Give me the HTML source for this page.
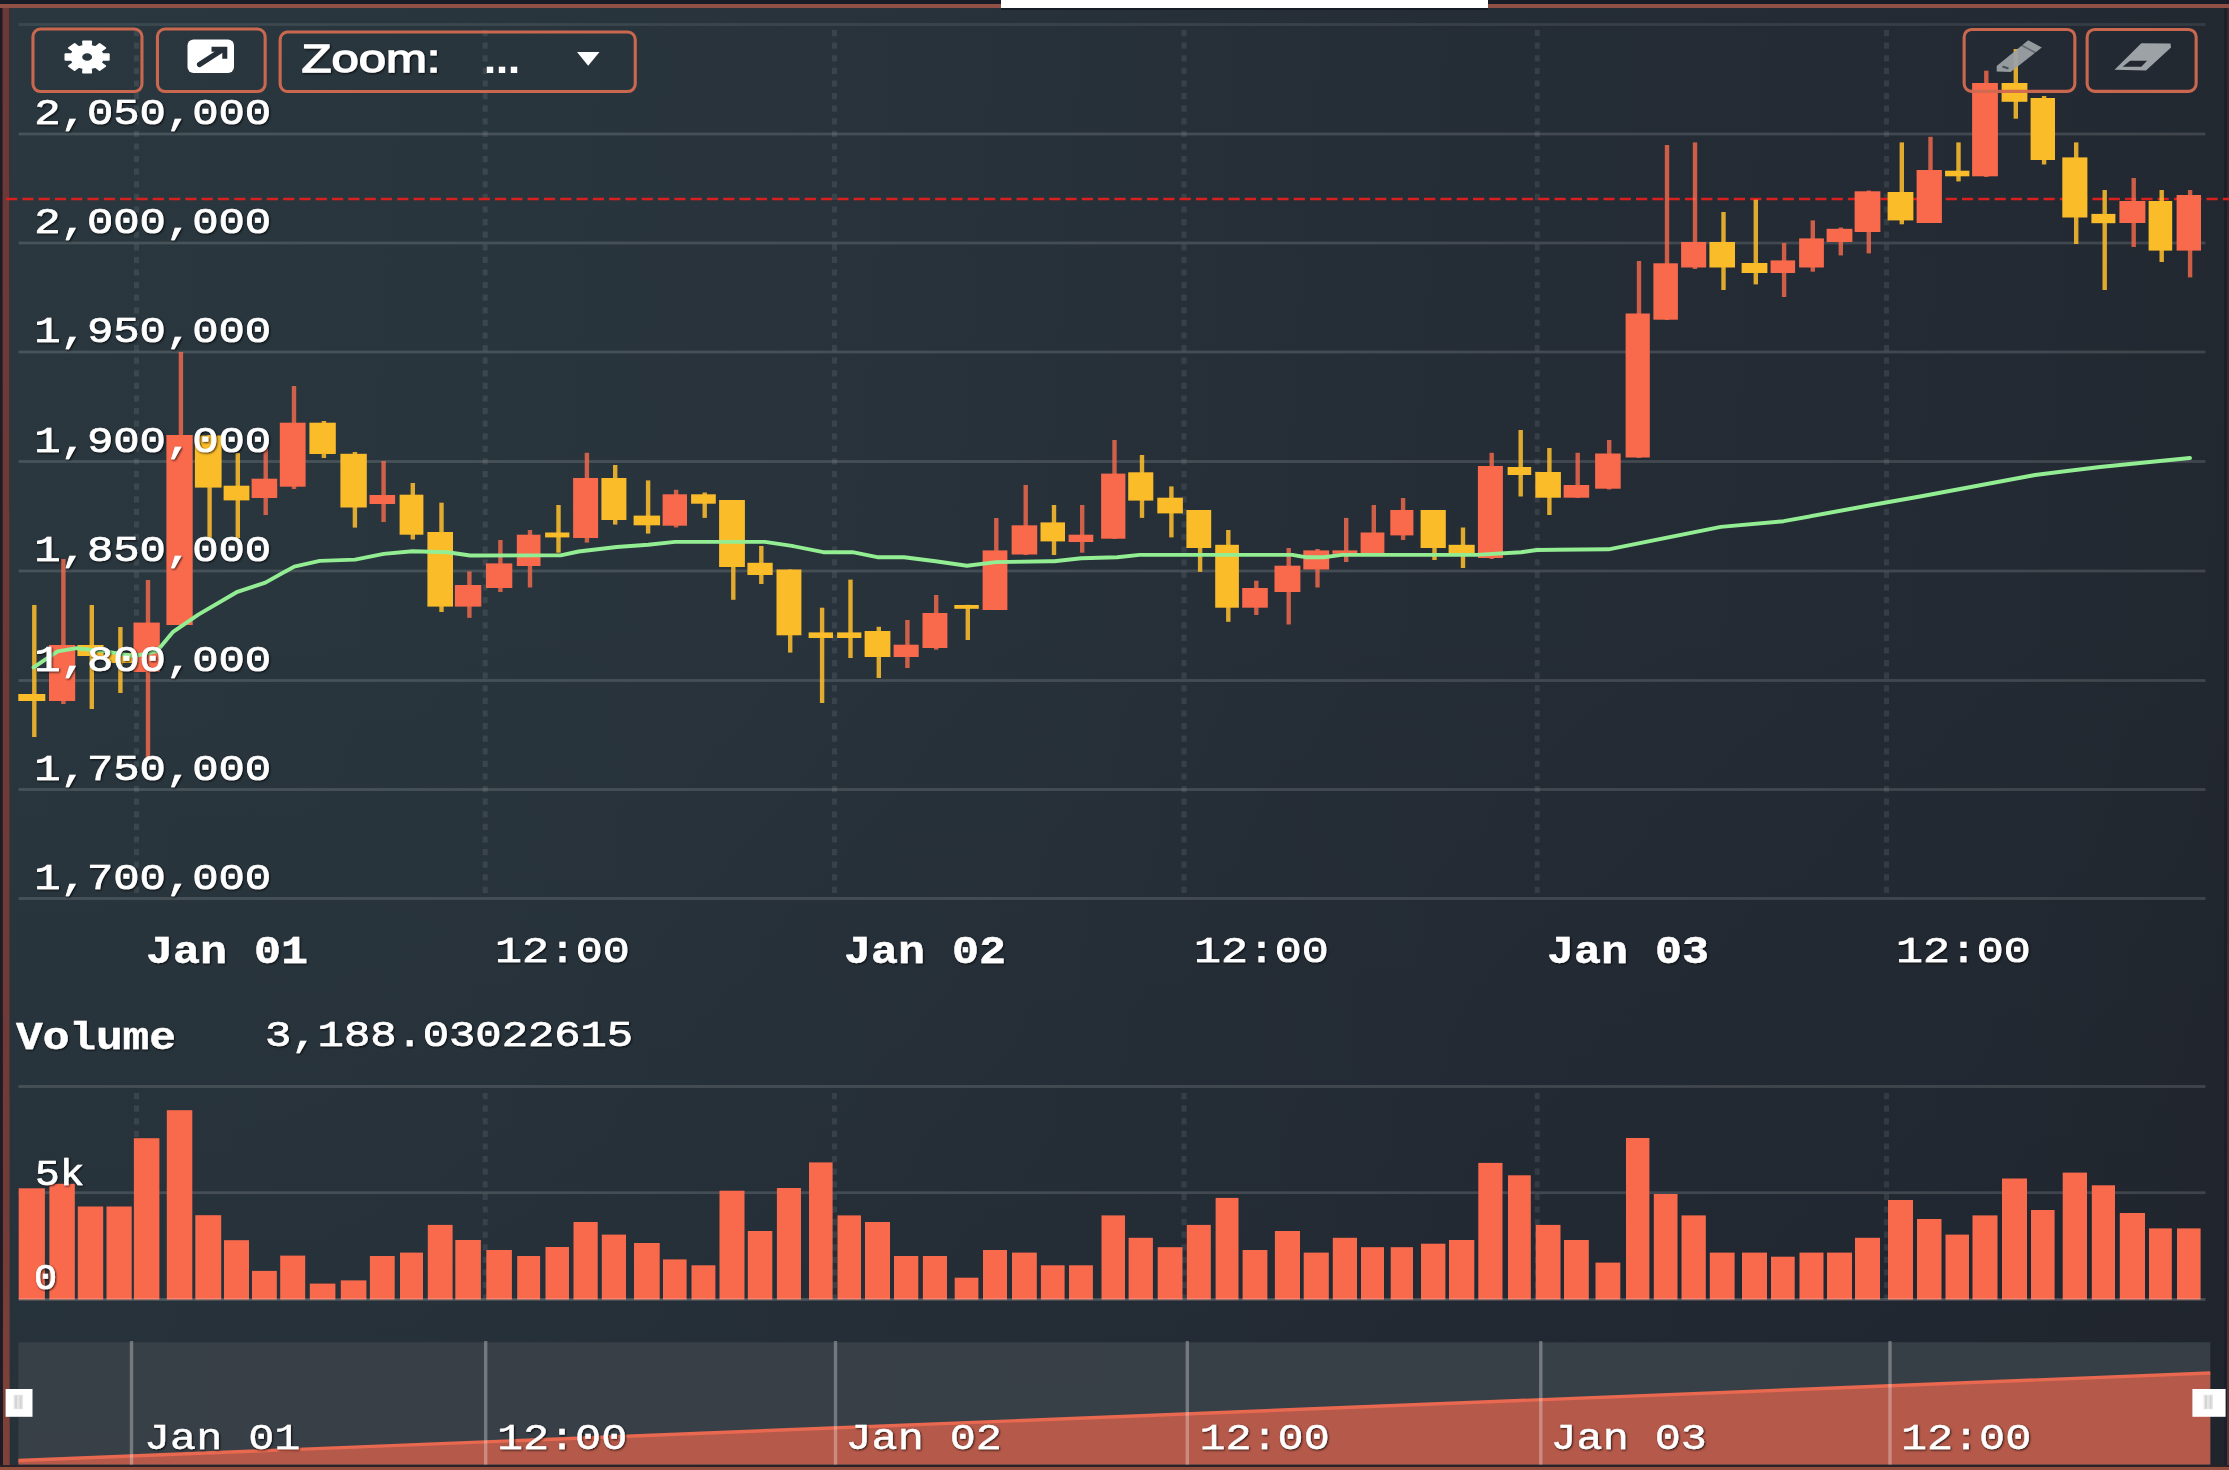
<!DOCTYPE html>
<html><head><meta charset="utf-8"><title>chart</title>
<style>
html,body{margin:0;padding:0;}
body{width:2229px;height:1470px;overflow:hidden;background:#232a33;font-family:"Liberation Mono",monospace;position:relative;}
#bg{position:absolute;left:0;top:0;width:2229px;height:1470px;background:linear-gradient(94deg,#2a373f 0%,#29353d 22%,#27313a 45%,#242c35 67%,#232a33 88%,#22272f 100%);}
#bg2{position:absolute;left:0;top:0;width:2229px;height:1470px;background:linear-gradient(180deg,rgba(20,22,32,0) 0%,rgba(20,22,32,0) 40%,rgba(20,22,32,0.17) 100%);}
.btn{position:absolute;box-sizing:border-box;border:3.5px solid #cf6a50;border-radius:9px;}
svg{position:absolute;left:0;top:0;}
text{font-family:"Liberation Mono",monospace;fill:#fff;stroke:#fff;stroke-width:0.7px;}
.b{stroke-width:0.4px;}
.sans{font-family:"Liberation Sans",sans-serif;}
</style></head><body>
<div id="bg"></div><div id="bg2"></div>

<div style="position:absolute;left:0;top:0;width:2229px;height:4.2px;background:#1a1c27"></div>
<div style="position:absolute;left:0;top:4.1px;width:2229px;height:3.7px;background:#8f5146"></div>
<div style="position:absolute;left:1000.5px;top:0;width:487.5px;height:7.8px;background:#fff"></div>
<div style="position:absolute;left:1000.5px;top:7.8px;width:487.5px;height:1.8px;background:#141a23;opacity:0.85"></div>
<div style="position:absolute;left:0;top:8px;width:10px;height:1462px;background:#1f1a24"></div>
<div style="position:absolute;left:0;top:8px;width:11px;height:1462px;background:linear-gradient(180deg,#683a38,#6f3c38 80%,#7e4339);clip-path:polygon(2.5px 0,9.5px 0,9.8px 100%,3px 100%)"></div>
<div style="position:absolute;left:2223.5px;top:8px;width:3px;height:1462px;background:#1c1f28"></div>
<div style="position:absolute;left:2226.5px;top:8px;width:2.5px;height:1462px;background:linear-gradient(180deg,#33292e,#3a2c30 60%,#5a3535)"></div>
<div style="position:absolute;left:0;top:1465.2px;width:2229px;height:1.8px;background:#2a2229"></div>
<div style="position:absolute;left:0;top:1466.8px;width:2229px;height:3.2px;background:#93503f"></div>
<svg width="2229" height="1470" viewBox="0 0 2229 1470">
<defs><filter id="bl" x="-5%" y="-5%" width="110%" height="110%"><feGaussianBlur stdDeviation="0.7"/></filter><filter id="ts" x="-10%" y="-20%" width="120%" height="140%"><feDropShadow dx="1" dy="1" stdDeviation="0.8" flood-color="#000" flood-opacity="0.8"/></filter></defs>
<rect x="18.5" y="23.1" width="2187.0" height="2.8" fill="#ffffff" opacity="0.09"/>
<rect x="18.5" y="132.6" width="2187.0" height="2.8" fill="#ffffff" opacity="0.14"/>
<rect x="18.5" y="241.6" width="2187.0" height="2.8" fill="#ffffff" opacity="0.14"/>
<rect x="18.5" y="350.6" width="2187.0" height="2.8" fill="#ffffff" opacity="0.14"/>
<rect x="18.5" y="460.1" width="2187.0" height="2.8" fill="#ffffff" opacity="0.14"/>
<rect x="18.5" y="569.6" width="2187.0" height="2.8" fill="#ffffff" opacity="0.14"/>
<rect x="18.5" y="679.1" width="2187.0" height="2.8" fill="#ffffff" opacity="0.14"/>
<rect x="18.5" y="788.1" width="2187.0" height="2.8" fill="#ffffff" opacity="0.14"/>
<rect x="18.5" y="897.1" width="2187.0" height="2.8" fill="#ffffff" opacity="0.14"/>
<line x1="136.5" y1="30" x2="136.5" y2="898" stroke="#ffffff" stroke-opacity="0.085" stroke-width="5" stroke-dasharray="6.2 6.4"/>
<line x1="485.2" y1="30" x2="485.2" y2="898" stroke="#ffffff" stroke-opacity="0.085" stroke-width="5" stroke-dasharray="6.2 6.4"/>
<line x1="834.5" y1="30" x2="834.5" y2="898" stroke="#ffffff" stroke-opacity="0.085" stroke-width="5" stroke-dasharray="6.2 6.4"/>
<line x1="1184" y1="30" x2="1184" y2="898" stroke="#ffffff" stroke-opacity="0.085" stroke-width="5" stroke-dasharray="6.2 6.4"/>
<line x1="1537.2" y1="30" x2="1537.2" y2="898" stroke="#ffffff" stroke-opacity="0.085" stroke-width="5" stroke-dasharray="6.2 6.4"/>
<line x1="1886.5" y1="30" x2="1886.5" y2="898" stroke="#ffffff" stroke-opacity="0.085" stroke-width="5" stroke-dasharray="6.2 6.4"/>
<rect x="18.5" y="1085.1" width="2187.0" height="2.8" fill="#ffffff" opacity="0.14"/>
<rect x="18.5" y="1191.3" width="2187.0" height="2.8" fill="#ffffff" opacity="0.14"/>
<line x1="136.5" y1="1093" x2="136.5" y2="1299" stroke="#ffffff" stroke-opacity="0.085" stroke-width="5" stroke-dasharray="6.2 6.4"/>
<line x1="485.2" y1="1093" x2="485.2" y2="1299" stroke="#ffffff" stroke-opacity="0.085" stroke-width="5" stroke-dasharray="6.2 6.4"/>
<line x1="834.5" y1="1093" x2="834.5" y2="1299" stroke="#ffffff" stroke-opacity="0.085" stroke-width="5" stroke-dasharray="6.2 6.4"/>
<line x1="1184" y1="1093" x2="1184" y2="1299" stroke="#ffffff" stroke-opacity="0.085" stroke-width="5" stroke-dasharray="6.2 6.4"/>
<line x1="1537.2" y1="1093" x2="1537.2" y2="1299" stroke="#ffffff" stroke-opacity="0.085" stroke-width="5" stroke-dasharray="6.2 6.4"/>
<line x1="1886.5" y1="1093" x2="1886.5" y2="1299" stroke="#ffffff" stroke-opacity="0.085" stroke-width="5" stroke-dasharray="6.2 6.4"/>
<line x1="6" y1="199" x2="2229" y2="199" stroke="#d9201f" stroke-width="2.4" stroke-dasharray="11.2 5.1"/>
<g filter="url(#bl)">
<rect x="32.1" y="605.0" width="4.4" height="132.0" fill="#fbbc2c" opacity="0.88"/>
<rect x="18.3" y="694.0" width="27.0" height="7.0" fill="#fbbc2c"/>
<rect x="61.2" y="559.0" width="4.4" height="145.0" fill="#f96a4d" opacity="0.8"/>
<rect x="49.0" y="645.0" width="26.2" height="56.0" fill="#f96a4d"/>
<rect x="89.6" y="605.0" width="4.4" height="104.0" fill="#fbbc2c" opacity="0.88"/>
<rect x="77.4" y="645.0" width="26.2" height="11.0" fill="#fbbc2c"/>
<rect x="118.2" y="627.0" width="4.4" height="66.0" fill="#fbbc2c" opacity="0.88"/>
<rect x="106.1" y="653.0" width="26.0" height="10.0" fill="#fbbc2c"/>
<rect x="145.8" y="580.0" width="4.4" height="178.5" fill="#f96a4d" opacity="0.8"/>
<rect x="133.5" y="622.6" width="26.3" height="49.4" fill="#f96a4d"/>
<rect x="178.7" y="352.0" width="4.4" height="273.0" fill="#f96a4d" opacity="0.8"/>
<rect x="166.4" y="435.0" width="26.3" height="190.0" fill="#f96a4d"/>
<rect x="207.4" y="435.0" width="4.4" height="103.0" fill="#fbbc2c" opacity="0.88"/>
<rect x="194.9" y="435.5" width="26.7" height="52.1" fill="#fbbc2c"/>
<rect x="235.6" y="453.0" width="4.4" height="85.0" fill="#fbbc2c" opacity="0.88"/>
<rect x="223.6" y="485.7" width="25.8" height="14.7" fill="#fbbc2c"/>
<rect x="263.5" y="448.0" width="4.4" height="67.0" fill="#f96a4d" opacity="0.8"/>
<rect x="251.6" y="478.7" width="25.6" height="19.3" fill="#f96a4d"/>
<rect x="291.8" y="386.0" width="4.4" height="103.0" fill="#f96a4d" opacity="0.8"/>
<rect x="279.8" y="422.7" width="25.8" height="64.0" fill="#f96a4d"/>
<rect x="321.7" y="421.0" width="4.4" height="37.0" fill="#fbbc2c" opacity="0.88"/>
<rect x="309.4" y="422.7" width="26.4" height="31.3" fill="#fbbc2c"/>
<rect x="352.7" y="452.0" width="4.4" height="75.6" fill="#fbbc2c" opacity="0.88"/>
<rect x="340.4" y="453.8" width="26.4" height="53.7" fill="#fbbc2c"/>
<rect x="381.4" y="461.0" width="4.4" height="61.0" fill="#f96a4d" opacity="0.8"/>
<rect x="369.5" y="495.0" width="25.6" height="9.0" fill="#f96a4d"/>
<rect x="410.6" y="483.0" width="4.4" height="56.5" fill="#fbbc2c" opacity="0.88"/>
<rect x="399.6" y="494.7" width="23.8" height="40.0" fill="#fbbc2c"/>
<rect x="439.3" y="502.7" width="4.4" height="109.3" fill="#fbbc2c" opacity="0.88"/>
<rect x="427.4" y="532.0" width="25.6" height="74.6" fill="#fbbc2c"/>
<rect x="467.2" y="571.4" width="4.4" height="46.4" fill="#f96a4d" opacity="0.8"/>
<rect x="454.9" y="585.0" width="26.4" height="21.6" fill="#f96a4d"/>
<rect x="498.2" y="540.0" width="4.4" height="52.0" fill="#f96a4d" opacity="0.8"/>
<rect x="485.9" y="563.4" width="26.4" height="24.6" fill="#f96a4d"/>
<rect x="527.8" y="530.0" width="4.4" height="57.5" fill="#f96a4d" opacity="0.8"/>
<rect x="516.8" y="534.7" width="23.7" height="31.3" fill="#f96a4d"/>
<rect x="556.3" y="505.0" width="4.4" height="47.7" fill="#fbbc2c" opacity="0.88"/>
<rect x="545.1" y="532.5" width="24.3" height="4.9" fill="#fbbc2c"/>
<rect x="584.7" y="452.8" width="4.4" height="89.8" fill="#f96a4d" opacity="0.8"/>
<rect x="573.1" y="478.0" width="25.0" height="60.0" fill="#f96a4d"/>
<rect x="613.0" y="465.0" width="4.4" height="59.6" fill="#fbbc2c" opacity="0.88"/>
<rect x="601.4" y="478.0" width="25.0" height="42.0" fill="#fbbc2c"/>
<rect x="645.9" y="480.4" width="4.4" height="53.2" fill="#fbbc2c" opacity="0.88"/>
<rect x="633.6" y="515.6" width="26.5" height="9.7" fill="#fbbc2c"/>
<rect x="673.9" y="489.8" width="4.4" height="37.7" fill="#f96a4d" opacity="0.8"/>
<rect x="662.6" y="494.3" width="24.4" height="31.4" fill="#f96a4d"/>
<rect x="702.5" y="492.5" width="4.4" height="25.4" fill="#fbbc2c" opacity="0.88"/>
<rect x="691.1" y="494.3" width="24.7" height="9.4" fill="#fbbc2c"/>
<rect x="731.1" y="500.0" width="4.4" height="99.8" fill="#fbbc2c" opacity="0.88"/>
<rect x="719.1" y="500.0" width="25.8" height="67.0" fill="#fbbc2c"/>
<rect x="759.1" y="546.0" width="4.4" height="38.0" fill="#fbbc2c" opacity="0.88"/>
<rect x="747.4" y="562.8" width="25.3" height="12.2" fill="#fbbc2c"/>
<rect x="788.0" y="569.5" width="4.4" height="83.1" fill="#fbbc2c" opacity="0.88"/>
<rect x="776.5" y="569.5" width="24.9" height="65.8" fill="#fbbc2c"/>
<rect x="819.9" y="607.7" width="4.4" height="95.3" fill="#fbbc2c" opacity="0.88"/>
<rect x="808.6" y="632.4" width="24.4" height="5.6" fill="#fbbc2c"/>
<rect x="848.3" y="579.6" width="4.4" height="78.4" fill="#fbbc2c" opacity="0.88"/>
<rect x="837.1" y="632.4" width="24.3" height="5.6" fill="#fbbc2c"/>
<rect x="876.6" y="626.8" width="4.4" height="51.2" fill="#fbbc2c" opacity="0.88"/>
<rect x="864.6" y="631.0" width="25.8" height="26.0" fill="#fbbc2c"/>
<rect x="905.2" y="620.0" width="4.4" height="48.0" fill="#f96a4d" opacity="0.8"/>
<rect x="893.6" y="644.7" width="25.1" height="12.3" fill="#f96a4d"/>
<rect x="934.0" y="595.0" width="4.4" height="54.7" fill="#f96a4d" opacity="0.8"/>
<rect x="922.5" y="613.0" width="24.9" height="35.0" fill="#f96a4d"/>
<rect x="965.6" y="604.8" width="4.4" height="35.2" fill="#fbbc2c" opacity="0.88"/>
<rect x="954.3" y="605.0" width="24.5" height="3.8" fill="#fbbc2c"/>
<rect x="994.1" y="518.0" width="4.4" height="92.0" fill="#f96a4d" opacity="0.8"/>
<rect x="982.6" y="550.4" width="24.8" height="59.6" fill="#f96a4d"/>
<rect x="1023.5" y="485.0" width="4.4" height="70.0" fill="#f96a4d" opacity="0.8"/>
<rect x="1011.6" y="525.3" width="25.6" height="29.2" fill="#f96a4d"/>
<rect x="1051.8" y="505.0" width="4.4" height="50.0" fill="#fbbc2c" opacity="0.88"/>
<rect x="1040.5" y="522.4" width="24.5" height="19.0" fill="#fbbc2c"/>
<rect x="1080.0" y="505.0" width="4.4" height="47.7" fill="#f96a4d" opacity="0.8"/>
<rect x="1068.6" y="534.7" width="24.7" height="7.3" fill="#f96a4d"/>
<rect x="1112.3" y="440.0" width="4.4" height="99.0" fill="#f96a4d" opacity="0.8"/>
<rect x="1101.1" y="473.6" width="24.3" height="65.1" fill="#f96a4d"/>
<rect x="1139.8" y="455.0" width="4.4" height="62.9" fill="#fbbc2c" opacity="0.88"/>
<rect x="1128.2" y="472.3" width="25.1" height="28.3" fill="#fbbc2c"/>
<rect x="1169.2" y="486.4" width="4.4" height="51.0" fill="#fbbc2c" opacity="0.88"/>
<rect x="1157.3" y="497.7" width="25.6" height="15.7" fill="#fbbc2c"/>
<rect x="1197.9" y="510.0" width="4.4" height="61.8" fill="#fbbc2c" opacity="0.88"/>
<rect x="1186.4" y="510.0" width="24.8" height="38.0" fill="#fbbc2c"/>
<rect x="1226.1" y="530.0" width="4.4" height="91.8" fill="#fbbc2c" opacity="0.88"/>
<rect x="1215.2" y="544.8" width="23.7" height="62.9" fill="#fbbc2c"/>
<rect x="1254.1" y="580.7" width="4.4" height="34.3" fill="#f96a4d" opacity="0.8"/>
<rect x="1242.2" y="588.0" width="25.6" height="19.7" fill="#f96a4d"/>
<rect x="1286.5" y="548.0" width="4.4" height="76.5" fill="#f96a4d" opacity="0.8"/>
<rect x="1274.5" y="565.7" width="25.9" height="26.3" fill="#f96a4d"/>
<rect x="1315.3" y="549.0" width="4.4" height="38.5" fill="#f96a4d" opacity="0.8"/>
<rect x="1303.3" y="550.4" width="25.9" height="19.1" fill="#f96a4d"/>
<rect x="1344.0" y="517.9" width="4.4" height="44.1" fill="#f96a4d" opacity="0.8"/>
<rect x="1332.4" y="550.4" width="25.0" height="3.4" fill="#f96a4d"/>
<rect x="1371.6" y="505.0" width="4.4" height="50.0" fill="#f96a4d" opacity="0.8"/>
<rect x="1360.6" y="532.5" width="23.8" height="22.5" fill="#f96a4d"/>
<rect x="1400.9" y="498.0" width="4.4" height="42.0" fill="#f96a4d" opacity="0.8"/>
<rect x="1390.3" y="510.0" width="23.1" height="25.4" fill="#f96a4d"/>
<rect x="1432.3" y="510.0" width="4.4" height="50.0" fill="#fbbc2c" opacity="0.88"/>
<rect x="1420.6" y="510.0" width="25.2" height="38.0" fill="#fbbc2c"/>
<rect x="1460.8" y="527.5" width="4.4" height="40.5" fill="#fbbc2c" opacity="0.88"/>
<rect x="1448.6" y="544.8" width="26.1" height="10.2" fill="#fbbc2c"/>
<rect x="1489.5" y="452.8" width="4.4" height="106.2" fill="#f96a4d" opacity="0.8"/>
<rect x="1477.9" y="466.0" width="25.0" height="92.0" fill="#f96a4d"/>
<rect x="1518.5" y="430.0" width="4.4" height="66.5" fill="#fbbc2c" opacity="0.88"/>
<rect x="1507.6" y="467.0" width="23.6" height="8.0" fill="#fbbc2c"/>
<rect x="1547.2" y="448.0" width="4.4" height="67.0" fill="#fbbc2c" opacity="0.88"/>
<rect x="1535.3" y="472.0" width="25.6" height="25.7" fill="#fbbc2c"/>
<rect x="1575.5" y="452.8" width="4.4" height="45.2" fill="#f96a4d" opacity="0.8"/>
<rect x="1563.6" y="485.0" width="25.6" height="12.7" fill="#f96a4d"/>
<rect x="1607.0" y="440.0" width="4.4" height="49.5" fill="#f96a4d" opacity="0.8"/>
<rect x="1595.1" y="453.5" width="25.6" height="35.2" fill="#f96a4d"/>
<rect x="1636.8" y="261.0" width="4.4" height="197.0" fill="#f96a4d" opacity="0.8"/>
<rect x="1625.6" y="313.5" width="24.2" height="144.0" fill="#f96a4d"/>
<rect x="1664.8" y="145.0" width="4.4" height="175.0" fill="#f96a4d" opacity="0.8"/>
<rect x="1653.4" y="263.3" width="24.5" height="56.4" fill="#f96a4d"/>
<rect x="1692.8" y="142.4" width="4.4" height="126.6" fill="#f96a4d" opacity="0.8"/>
<rect x="1681.1" y="242.0" width="25.1" height="25.5" fill="#f96a4d"/>
<rect x="1721.3" y="212.0" width="4.4" height="78.0" fill="#fbbc2c" opacity="0.88"/>
<rect x="1709.4" y="242.0" width="25.6" height="25.5" fill="#fbbc2c"/>
<rect x="1753.6" y="199.7" width="4.4" height="84.7" fill="#fbbc2c" opacity="0.88"/>
<rect x="1741.6" y="263.0" width="25.8" height="10.0" fill="#fbbc2c"/>
<rect x="1781.9" y="243.0" width="4.4" height="54.0" fill="#f96a4d" opacity="0.8"/>
<rect x="1770.6" y="260.4" width="24.5" height="12.6" fill="#f96a4d"/>
<rect x="1810.6" y="220.4" width="4.4" height="51.3" fill="#f96a4d" opacity="0.8"/>
<rect x="1799.1" y="238.4" width="24.8" height="29.1" fill="#f96a4d"/>
<rect x="1838.6" y="227.5" width="4.4" height="27.9" fill="#f96a4d" opacity="0.8"/>
<rect x="1826.6" y="228.8" width="25.8" height="13.2" fill="#f96a4d"/>
<rect x="1866.6" y="190.5" width="4.4" height="62.9" fill="#f96a4d" opacity="0.8"/>
<rect x="1854.6" y="191.3" width="25.8" height="40.7" fill="#f96a4d"/>
<rect x="1899.6" y="142.4" width="4.4" height="81.9" fill="#fbbc2c" opacity="0.88"/>
<rect x="1887.6" y="192.0" width="25.8" height="28.4" fill="#fbbc2c"/>
<rect x="1928.3" y="136.8" width="4.4" height="86.2" fill="#f96a4d" opacity="0.8"/>
<rect x="1916.6" y="170.0" width="25.3" height="53.0" fill="#f96a4d"/>
<rect x="1956.3" y="142.4" width="4.4" height="39.0" fill="#fbbc2c" opacity="0.88"/>
<rect x="1945.1" y="170.7" width="24.3" height="5.6" fill="#fbbc2c"/>
<rect x="1984.1" y="70.7" width="4.4" height="106.3" fill="#f96a4d" opacity="0.8"/>
<rect x="1972.1" y="83.0" width="25.8" height="93.3" fill="#f96a4d"/>
<rect x="2013.6" y="49.0" width="4.4" height="69.7" fill="#fbbc2c" opacity="0.88"/>
<rect x="2001.6" y="83.0" width="25.8" height="18.8" fill="#fbbc2c"/>
<rect x="2041.9" y="96.0" width="4.4" height="68.5" fill="#fbbc2c" opacity="0.88"/>
<rect x="2030.6" y="98.0" width="24.4" height="62.0" fill="#fbbc2c"/>
<rect x="2074.0" y="142.4" width="4.4" height="101.6" fill="#fbbc2c" opacity="0.88"/>
<rect x="2062.3" y="157.4" width="25.1" height="60.1" fill="#fbbc2c"/>
<rect x="2102.5" y="190.0" width="4.4" height="100.0" fill="#fbbc2c" opacity="0.88"/>
<rect x="2091.4" y="213.9" width="24.0" height="9.3" fill="#fbbc2c"/>
<rect x="2131.5" y="178.0" width="4.4" height="69.0" fill="#f96a4d" opacity="0.8"/>
<rect x="2119.4" y="201.0" width="26.0" height="22.0" fill="#f96a4d"/>
<rect x="2159.5" y="190.0" width="4.4" height="72.0" fill="#fbbc2c" opacity="0.88"/>
<rect x="2148.6" y="201.0" width="23.6" height="49.6" fill="#fbbc2c"/>
<rect x="2187.9" y="190.0" width="4.4" height="87.4" fill="#f96a4d" opacity="0.8"/>
<rect x="2176.6" y="195.0" width="24.4" height="55.6" fill="#f96a4d"/>
</g>
<rect x="32.95" y="29.05" width="109.0" height="62.5" rx="7.5" fill="none" stroke="#d06a50" stroke-opacity="0.96" stroke-width="3.1"/>
<rect x="157.45" y="29.05" width="107.7" height="62.5" rx="7.5" fill="none" stroke="#d06a50" stroke-opacity="0.96" stroke-width="3.1"/>
<rect x="280.15" y="32.05" width="355.1" height="59.5" rx="7.5" fill="none" stroke="#d06a50" stroke-opacity="0.96" stroke-width="3.1"/>
<rect x="1964.15" y="29.45" width="110.7" height="61.9" rx="7.5" fill="none" stroke="#d06a50" stroke-opacity="0.96" stroke-width="3.1"/>
<rect x="2087.15" y="29.45" width="109.0" height="61.9" rx="7.5" fill="none" stroke="#d06a50" stroke-opacity="0.96" stroke-width="3.1"/>
<path d="M83.1,41.5 L91.1,41.5 L90.8,45.9 L95.4,47.3 L99.6,44.0 L105.2,48.0 L100.6,51.1 L102.5,54.3 L108.7,54.2 L108.7,59.8 L102.5,59.7 L100.6,62.9 L105.2,66.0 L99.6,70.0 L95.4,66.7 L90.8,68.1 L91.1,72.5 L83.1,72.5 L83.4,68.1 L78.8,66.7 L74.6,70.0 L69.0,66.0 L73.6,62.9 L71.7,59.7 L65.5,59.8 L65.5,54.2 L71.7,54.3 L73.6,51.1 L69.0,48.0 L74.6,44.0 L78.8,47.3 L83.4,45.9Z M81.2,57 a5.9,4.7 0 1,0 11.9,0 a5.9,4.7 0 1,0 -11.9,0Z" fill="#fff" fill-rule="evenodd" stroke="#fff" stroke-width="2" stroke-linejoin="round"/>
<rect x="187.5" y="39.5" width="46.5" height="33.5" rx="6" fill="#fff"/>
<path d="M199.5,64.5 L222,50" stroke="#273038" stroke-width="5.2" stroke-linecap="round"/><path d="M211.5,49.2 L224.8,49.2 L224.8,58.8" fill="none" stroke="#273038" stroke-width="5" stroke-linejoin="miter"/>
<text class="sans" style="stroke-width:1.3px" x="301.5" y="72.3" font-size="39" textLength="139" lengthAdjust="spacingAndGlyphs" filter="url(#ts)">Zoom:</text>
<text class="sans" style="stroke-width:2px" x="484" y="72.3" font-size="39" textLength="36" lengthAdjust="spacingAndGlyphs">...</text>
<path d="M577,52 L599.5,52 L588.2,65.8Z" fill="#fff"/>
<path d="M1996.7,71.5 L1996.7,66 L2028.2,40.2 L2041.8,47.4 L2010.7,72Z" fill="#9da2a7" opacity="0.93"/><path d="M2021,45 L2036,53" stroke="#2a3038" stroke-width="1.6" opacity="0.45"/><path d="M2002.5,66.5 l6,2" stroke="#2a3038" stroke-width="2.2" opacity="0.7"/>
<path d="M2114.5,69.8 L2141.3,43.2 L2170.5,43.6 L2171,47.4 L2146,70.4Z" fill="#9da2a7"/><path d="M2122.6,66.7 L2130.2,60.8 L2147.1,60.8 L2141.3,66.7Z" fill="#22272f"/>
<polyline fill="none" stroke="#93ee93" stroke-width="3.9" stroke-linejoin="round" stroke-linecap="round" points="33.6,667.4 57.6,651.4 76.7,648.2 105.5,651.4 134.3,656.2 156.7,651.4 172.7,632.2 198.3,614.6 236.6,592.2 265.4,582.6 294.2,566.6 319.8,560.9 355,559.6 383.8,553.9 412.5,551.3 447.7,552.3 470.1,555.5 560.6,555.4 578.6,551.5 616.7,547 648.2,544.8 675.1,541.9 764.9,541.9 791.9,545.9 823.3,552.2 852.5,552.2 877.2,557.2 904.1,557.2 935.6,561.2 967,565.7 995.9,562.1 1054.3,561.2 1081.2,558.3 1117.2,557.2 1139.6,554.9 1292.3,554.9 1305.8,557.2 1323.7,557.2 1341.7,554.9 1476,554.9 1521,552.2 1536.7,550 1608.6,549.3 1720.9,526.9 1783.7,521.2 1869,505.5 1920,496.5 2035,475 2100,467 2190,458"/>
<g filter="url(#bl)">
<rect x="18.7" y="1188.3" width="26.2" height="111.2" fill="#f96a4d"/>
<rect x="49.4" y="1183.8" width="25.4" height="115.7" fill="#f96a4d"/>
<rect x="77.8" y="1206.5" width="25.4" height="93.0" fill="#f96a4d"/>
<rect x="106.5" y="1206.5" width="25.2" height="93.0" fill="#f96a4d"/>
<rect x="133.9" y="1138.2" width="25.5" height="161.3" fill="#f96a4d"/>
<rect x="166.8" y="1110.2" width="25.5" height="189.3" fill="#f96a4d"/>
<rect x="195.3" y="1215.2" width="25.9" height="84.3" fill="#f96a4d"/>
<rect x="224.0" y="1240.2" width="25.0" height="59.3" fill="#f96a4d"/>
<rect x="252.0" y="1270.9" width="24.8" height="28.6" fill="#f96a4d"/>
<rect x="280.2" y="1255.6" width="25.0" height="43.9" fill="#f96a4d"/>
<rect x="309.8" y="1283.6" width="25.6" height="15.9" fill="#f96a4d"/>
<rect x="340.8" y="1280.4" width="25.6" height="19.1" fill="#f96a4d"/>
<rect x="369.9" y="1256.0" width="24.8" height="43.5" fill="#f96a4d"/>
<rect x="400.0" y="1252.6" width="23.0" height="46.9" fill="#f96a4d"/>
<rect x="427.8" y="1224.9" width="24.8" height="74.6" fill="#f96a4d"/>
<rect x="455.3" y="1240.0" width="25.6" height="59.5" fill="#f96a4d"/>
<rect x="486.3" y="1250.0" width="25.6" height="49.5" fill="#f96a4d"/>
<rect x="517.2" y="1256.0" width="22.9" height="43.5" fill="#f96a4d"/>
<rect x="545.5" y="1247.0" width="23.5" height="52.5" fill="#f96a4d"/>
<rect x="573.5" y="1222.0" width="24.2" height="77.5" fill="#f96a4d"/>
<rect x="601.8" y="1234.6" width="24.2" height="64.9" fill="#f96a4d"/>
<rect x="634.0" y="1243.0" width="25.7" height="56.5" fill="#f96a4d"/>
<rect x="663.0" y="1259.4" width="23.6" height="40.1" fill="#f96a4d"/>
<rect x="691.5" y="1265.3" width="23.9" height="34.2" fill="#f96a4d"/>
<rect x="719.5" y="1190.7" width="25.0" height="108.8" fill="#f96a4d"/>
<rect x="747.8" y="1231.0" width="24.5" height="68.5" fill="#f96a4d"/>
<rect x="776.9" y="1188.0" width="24.1" height="111.5" fill="#f96a4d"/>
<rect x="809.0" y="1162.4" width="23.6" height="137.1" fill="#f96a4d"/>
<rect x="837.5" y="1215.4" width="23.5" height="84.1" fill="#f96a4d"/>
<rect x="865.0" y="1222.0" width="25.0" height="77.5" fill="#f96a4d"/>
<rect x="894.0" y="1256.0" width="24.3" height="43.5" fill="#f96a4d"/>
<rect x="922.9" y="1256.0" width="24.1" height="43.5" fill="#f96a4d"/>
<rect x="954.7" y="1277.7" width="23.7" height="21.8" fill="#f96a4d"/>
<rect x="983.0" y="1250.0" width="24.0" height="49.5" fill="#f96a4d"/>
<rect x="1012.0" y="1252.6" width="24.8" height="46.9" fill="#f96a4d"/>
<rect x="1040.9" y="1265.3" width="23.7" height="34.2" fill="#f96a4d"/>
<rect x="1069.0" y="1265.3" width="23.9" height="34.2" fill="#f96a4d"/>
<rect x="1101.5" y="1215.4" width="23.5" height="84.1" fill="#f96a4d"/>
<rect x="1128.6" y="1237.8" width="24.3" height="61.7" fill="#f96a4d"/>
<rect x="1157.7" y="1247.2" width="24.8" height="52.3" fill="#f96a4d"/>
<rect x="1186.8" y="1224.9" width="24.0" height="74.6" fill="#f96a4d"/>
<rect x="1215.6" y="1197.9" width="22.9" height="101.6" fill="#f96a4d"/>
<rect x="1242.6" y="1250.0" width="24.8" height="49.5" fill="#f96a4d"/>
<rect x="1274.9" y="1231.0" width="25.1" height="68.5" fill="#f96a4d"/>
<rect x="1303.7" y="1252.6" width="25.1" height="46.9" fill="#f96a4d"/>
<rect x="1332.8" y="1237.8" width="24.2" height="61.7" fill="#f96a4d"/>
<rect x="1361.0" y="1247.2" width="23.0" height="52.3" fill="#f96a4d"/>
<rect x="1390.7" y="1247.2" width="22.3" height="52.3" fill="#f96a4d"/>
<rect x="1421.0" y="1243.7" width="24.4" height="55.8" fill="#f96a4d"/>
<rect x="1449.0" y="1240.0" width="25.3" height="59.5" fill="#f96a4d"/>
<rect x="1478.3" y="1162.9" width="24.2" height="136.6" fill="#f96a4d"/>
<rect x="1508.0" y="1175.3" width="22.8" height="124.2" fill="#f96a4d"/>
<rect x="1535.7" y="1224.9" width="24.8" height="74.6" fill="#f96a4d"/>
<rect x="1564.0" y="1240.0" width="24.8" height="59.5" fill="#f96a4d"/>
<rect x="1595.5" y="1262.6" width="24.8" height="36.9" fill="#f96a4d"/>
<rect x="1626.0" y="1138.0" width="23.4" height="161.5" fill="#f96a4d"/>
<rect x="1653.8" y="1194.0" width="23.7" height="105.5" fill="#f96a4d"/>
<rect x="1681.5" y="1215.4" width="24.3" height="84.1" fill="#f96a4d"/>
<rect x="1709.8" y="1252.6" width="24.8" height="46.9" fill="#f96a4d"/>
<rect x="1742.0" y="1252.6" width="25.0" height="46.9" fill="#f96a4d"/>
<rect x="1771.0" y="1256.7" width="23.7" height="42.8" fill="#f96a4d"/>
<rect x="1799.5" y="1252.6" width="24.0" height="46.9" fill="#f96a4d"/>
<rect x="1827.0" y="1252.6" width="25.0" height="46.9" fill="#f96a4d"/>
<rect x="1855.0" y="1237.8" width="25.0" height="61.7" fill="#f96a4d"/>
<rect x="1888.0" y="1200.0" width="25.0" height="99.5" fill="#f96a4d"/>
<rect x="1917.0" y="1219.0" width="24.5" height="80.5" fill="#f96a4d"/>
<rect x="1945.5" y="1234.6" width="23.5" height="64.9" fill="#f96a4d"/>
<rect x="1972.5" y="1215.4" width="25.0" height="84.1" fill="#f96a4d"/>
<rect x="2002.0" y="1178.5" width="25.0" height="121.0" fill="#f96a4d"/>
<rect x="2031.0" y="1210.0" width="23.6" height="89.5" fill="#f96a4d"/>
<rect x="2062.7" y="1172.6" width="24.3" height="126.9" fill="#f96a4d"/>
<rect x="2091.8" y="1185.3" width="23.2" height="114.2" fill="#f96a4d"/>
<rect x="2119.8" y="1213.0" width="25.2" height="86.5" fill="#f96a4d"/>
<rect x="2149.0" y="1228.4" width="22.8" height="71.1" fill="#f96a4d"/>
<rect x="2177.0" y="1228.4" width="23.6" height="71.1" fill="#f96a4d"/>
</g>
<rect x="18.5" y="1298" width="2187.0" height="2.8" fill="#ffffff" opacity="0.18"/>
<text x="34.3" y="124.0" font-size="37" textLength="236.9" lengthAdjust="spacingAndGlyphs" filter="url(#ts)">2,050,000</text>
<text x="34.3" y="233.0" font-size="37" textLength="236.9" lengthAdjust="spacingAndGlyphs" filter="url(#ts)">2,000,000</text>
<text x="34.3" y="342.0" font-size="37" textLength="236.9" lengthAdjust="spacingAndGlyphs" filter="url(#ts)">1,950,000</text>
<text x="34.3" y="451.5" font-size="37" textLength="236.9" lengthAdjust="spacingAndGlyphs" filter="url(#ts)">1,900,000</text>
<text x="34.3" y="561.0" font-size="37" textLength="236.9" lengthAdjust="spacingAndGlyphs" filter="url(#ts)">1,850,000</text>
<text x="34.3" y="670.5" font-size="37" textLength="236.9" lengthAdjust="spacingAndGlyphs" filter="url(#ts)">1,800,000</text>
<text x="34.3" y="779.5" font-size="37" textLength="236.9" lengthAdjust="spacingAndGlyphs" filter="url(#ts)">1,750,000</text>
<text x="34.3" y="888.5" font-size="37" textLength="236.9" lengthAdjust="spacingAndGlyphs" filter="url(#ts)">1,700,000</text>
<text x="146" y="963.3" font-size="39" font-weight="bold" class="b" textLength="161.9" lengthAdjust="spacingAndGlyphs" filter="url(#ts)">Jan 01</text>
<text x="495" y="962.3" font-size="37" textLength="134.8" lengthAdjust="spacingAndGlyphs" filter="url(#ts)">12:00</text>
<text x="844" y="963.3" font-size="39" font-weight="bold" class="b" textLength="161.9" lengthAdjust="spacingAndGlyphs" filter="url(#ts)">Jan 02</text>
<text x="1194" y="962.3" font-size="37" textLength="134.8" lengthAdjust="spacingAndGlyphs" filter="url(#ts)">12:00</text>
<text x="1547" y="963.3" font-size="39" font-weight="bold" class="b" textLength="161.9" lengthAdjust="spacingAndGlyphs" filter="url(#ts)">Jan 03</text>
<text x="1896" y="962.3" font-size="37" textLength="134.8" lengthAdjust="spacingAndGlyphs" filter="url(#ts)">12:00</text>
<text x="16" y="1049" font-size="39" font-weight="bold" class="b" textLength="159.9" lengthAdjust="spacingAndGlyphs" filter="url(#ts)">Volume</text>
<text x="265" y="1045.5" font-size="37" textLength="368.1" lengthAdjust="spacingAndGlyphs" filter="url(#ts)">3,188.03022615</text>
<text x="35" y="1185.3" font-size="37" textLength="49.3" lengthAdjust="spacingAndGlyphs" filter="url(#ts)">5k</text>
<text x="34" y="1289.3" font-size="37" textLength="23.1" lengthAdjust="spacingAndGlyphs" filter="url(#ts)">0</text>
<rect x="18.4" y="1342.3" width="2191.9" height="122.29999999999995" fill="#3a4149" opacity="0.92"/>
<path d="M18.4,1460.5 L2210.3,1373 L2210.3,1464.6 L18.4,1464.6Z" fill="#b5594a"/>
<path d="M18.4,1460.5 L2210.3,1373" stroke="#e86850" stroke-width="3.4" fill="none"/>
<rect x="129.8" y="1341" width="3.4" height="123.59999999999991" fill="#fff" opacity="0.3"/>
<rect x="484.0" y="1341" width="3.4" height="123.59999999999991" fill="#fff" opacity="0.3"/>
<rect x="833.8" y="1341" width="3.4" height="123.59999999999991" fill="#fff" opacity="0.3"/>
<rect x="1185.6" y="1341" width="3.4" height="123.59999999999991" fill="#fff" opacity="0.3"/>
<rect x="1539.1" y="1341" width="3.4" height="123.59999999999991" fill="#fff" opacity="0.3"/>
<rect x="1888.3" y="1341" width="3.4" height="123.59999999999991" fill="#fff" opacity="0.3"/>
<text x="144" y="1449" font-size="37" textLength="156.4" lengthAdjust="spacingAndGlyphs" style="stroke-width:0.35px" filter="url(#ts)">Jan 01</text>
<text x="497" y="1449" font-size="37" textLength="130.2" lengthAdjust="spacingAndGlyphs" style="stroke-width:0.35px" filter="url(#ts)">12:00</text>
<text x="845.5" y="1449" font-size="37" textLength="156.4" lengthAdjust="spacingAndGlyphs" style="stroke-width:0.35px" filter="url(#ts)">Jan 02</text>
<text x="1199.5" y="1449" font-size="37" textLength="130.2" lengthAdjust="spacingAndGlyphs" style="stroke-width:0.35px" filter="url(#ts)">12:00</text>
<text x="1550.5" y="1449" font-size="37" textLength="156.4" lengthAdjust="spacingAndGlyphs" style="stroke-width:0.35px" filter="url(#ts)">Jan 03</text>
<text x="1901" y="1449" font-size="37" textLength="130.2" lengthAdjust="spacingAndGlyphs" style="stroke-width:0.35px" filter="url(#ts)">12:00</text>
<rect x="5.6" y="1389" width="26.9" height="27.8" fill="#fff"/>
<rect x="13.55" y="1394.8" width="9.5" height="14.4" fill="#e6e6e6"/><rect x="15.05" y="1395.5" width="2" height="13" fill="#d4d4d4"/><rect x="19.55" y="1395.5" width="2" height="13" fill="#d4d4d4"/>
<rect x="2192.4" y="1389" width="33.19999999999982" height="27.8" fill="#fff"/>
<rect x="2203.5" y="1394.8" width="9.5" height="14.4" fill="#e6e6e6"/><rect x="2205.0" y="1395.5" width="2" height="13" fill="#d4d4d4"/><rect x="2209.5" y="1395.5" width="2" height="13" fill="#d4d4d4"/>
</svg></body></html>
